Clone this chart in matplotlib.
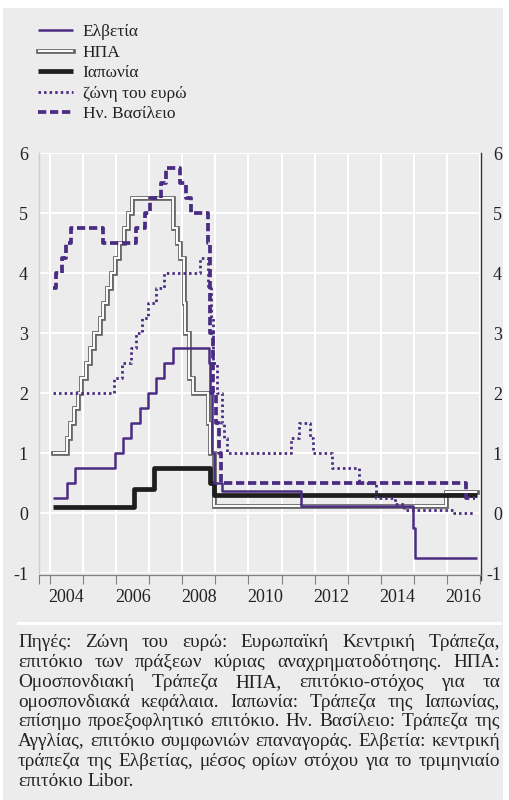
import matplotlib
matplotlib.use('Agg')
import matplotlib.pyplot as plt
import matplotlib.patheffects as pe
from matplotlib.patches import Rectangle
from matplotlib.lines import Line2D
from matplotlib.font_manager import FontProperties

SERIF = ['Liberation Serif', 'DejaVu Serif']
plt.rcParams['font.family'] = SERIF
plt.rcParams['axes.unicode_minus'] = False

# ---------------- data (change dates in decimal years, levels in %) ----------------
ch_dates = [2004.08, 2004.5, 2004.75, 2005.96, 2006.21, 2006.46, 2006.71, 2006.96, 2007.21,
            2007.46, 2007.71, 2008.80, 2008.85, 2008.89, 2008.95, 2009.19, 2011.59, 2014.96,
            2015.04, 2016.9]
ch_vals = [0.25, 0.5, 0.75, 1.0, 1.25, 1.5, 1.75, 2.0, 2.25, 2.5, 2.75, 2.5, 2.0, 1.0, 0.5,
           0.375, 0.125, -0.25, -0.75, -0.75]

us_dates = [2004.08, 2004.5, 2004.61, 2004.72, 2004.86, 2004.95, 2005.09, 2005.22, 2005.34,
            2005.5, 2005.6, 2005.72, 2005.83, 2005.95, 2006.08, 2006.24, 2006.36, 2006.49,
            2007.71, 2007.83, 2007.94, 2008.06, 2008.08, 2008.21, 2008.33, 2008.77, 2008.83,
            2008.96, 2015.96, 2016.9]
us_vals = [1.0, 1.25, 1.5, 1.75, 2.0, 2.25, 2.5, 2.75, 3.0, 3.25, 3.5, 3.75, 4.0, 4.25, 4.5,
           4.75, 5.0, 5.25, 4.75, 4.5, 4.25, 3.5, 3.0, 2.25, 2.0, 1.5, 1.0, 0.125, 0.35, 0.35]

jp_dates = [2004.08, 2006.54, 2007.14, 2008.83, 2008.97, 2016.9]
jp_vals = [0.1, 0.4, 0.75, 0.5, 0.3, 0.3]

ez_dates = [2004.08, 2005.93, 2006.18, 2006.45, 2006.6, 2006.78, 2006.95, 2007.2, 2007.45,
            2008.52, 2008.79, 2008.87, 2008.94, 2009.05, 2009.19, 2009.27, 2009.36, 2011.28,
            2011.53, 2011.86, 2011.95, 2012.53, 2013.35, 2013.87, 2014.44, 2014.69, 2016.2,
            2016.8]
ez_vals = [2.0, 2.25, 2.5, 2.75, 3.0, 3.25, 3.5, 3.75, 4.0, 4.25, 3.75, 3.25, 2.5, 2.0, 1.5,
           1.25, 1.0, 1.25, 1.5, 1.25, 1.0, 0.75, 0.5, 0.25, 0.15, 0.05, 0.0, 0.0]

uk_dates = [2004.08, 2004.17, 2004.37, 2004.47, 2004.64, 2005.59, 2006.59, 2006.86, 2007.03,
            2007.36, 2007.51, 2007.93, 2008.1, 2008.27, 2008.77, 2008.85, 2008.93, 2009.02,
            2009.1, 2009.18, 2016.59, 2016.85]
uk_vals = [3.75, 4.0, 4.25, 4.5, 4.75, 4.5, 4.75, 5.0, 5.25, 5.5, 5.75, 5.5, 5.25, 5.0, 4.5,
           3.0, 2.0, 1.5, 1.0, 0.5, 0.25, 0.25]

labels = ['Ελβετία', 'ΗΠΑ', 'Ιαπωνία', 'ζώνη του ευρώ', 'Ην. Βασίλειο']
y_ticks = [-1, 0, 1, 2, 3, 4, 5, 6]
x_grid_years = list(range(2004, 2018))
x_label_years = [2004, 2006, 2008, 2010, 2012, 2014, 2016]

note_lines = [
    "Πηγές: Ζώνη του ευρώ: Ευρωπαϊκή Κεντρική Τράπεζα,",
    "επιτόκιο των πράξεων κύριας αναχρηματοδότησης. ΗΠΑ:",
    "Ομοσπονδιακή Τράπεζα ΗΠΑ, επιτόκιο-στόχος για τα",
    "ομοσπονδιακά κεφάλαια. Ιαπωνία: Τράπεζα της Ιαπωνίας,",
    "επίσημο προεξοφλητικό επιτόκιο. Ην. Βασίλειο: Τράπεζα της",
    "Αγγλίας, επιτόκιο συμφωνιών επαναγοράς. Ελβετία: κεντρική",
    "τράπεζα της Ελβετίας, μέσος ορίων στόχου για το τριμηνιαίο",
    "επιτόκιο Libor.",
]
top_text = "(ποσοστιαίες μονάδες, μηνιαία στοιχεία)"

# ---------------- styling ----------------
PURPLE = '#4a2c82'
BG = '#ececec'
W, H = 509, 800

fig = plt.figure(figsize=(W / 100, H / 100), dpi=100)
fig.patch.set_facecolor('white')
fig.add_artist(Rectangle((3 / W, 0), 500 / W, 792 / H, transform=fig.transFigure,
                         facecolor=BG, edgecolor='none', zorder=-10))
fig.text(20 / W, 1 + 3.5 / H, top_text, color=PURPLE, fontsize=12, va='baseline', ha='left')

ax = fig.add_axes([39 / W, 1 - 573 / H, (481 - 39) / W, (573 - 153) / H])
ax.set_facecolor(BG)
ax.set_xlim(2003.667, 2017.03)
ax.set_ylim(-1, 6)

# lines
l_us, = ax.plot(us_dates, us_vals, drawstyle='steps-post', color='white', lw=1.4,
                solid_capstyle='butt', solid_joinstyle='miter', zorder=3,
                path_effects=[pe.Stroke(linewidth=3.4, foreground='#666666', capstyle='projecting',
                                        joinstyle='miter'), pe.Normal()])
l_jp, = ax.plot(jp_dates, jp_vals, drawstyle='steps-post', color='#1e1e1e', lw=3.4,
                solid_capstyle='butt', zorder=4)
l_ch, = ax.plot(ch_dates, ch_vals, drawstyle='steps-post', color=PURPLE, lw=1.8,
                solid_capstyle='butt', zorder=5)
l_ez, = ax.plot(ez_dates, ez_vals, drawstyle='steps-post', color=PURPLE, lw=2.0,
                linestyle=(0, (0.9, 1.1)), zorder=6)
l_uk, = ax.plot(uk_dates, uk_vals, drawstyle='steps-post', color=PURPLE, lw=2.7,
                linestyle=(0, (2.2, 1.0)), zorder=7)

# grid & ticks
ax.set_yticks(y_ticks)
ax.set_xticks([ax.get_xlim()[0]] + x_grid_years)
ax.set_xticklabels([])
ax.set_xticks([y + 0.5 for y in x_label_years], minor=True)
ax.set_xticklabels([str(y) for y in x_label_years], minor=True)
ax.grid(True, which='major', color='white', lw=1.5, zorder=0)
ax.set_axisbelow(True)
ax.tick_params(axis='x', which='major', direction='out', length=6.5, width=0.8, color='#808080')
ax.tick_params(axis='x', which='minor', length=0, pad=10, labelsize=13, labelcolor='#222222')
ax.tick_params(axis='y', which='major', length=0, pad=8, labelsize=13, labelcolor='#222222')

ax.spines['top'].set_visible(False)
ax.spines['left'].set_color('#cdcdcd')
ax.spines['left'].set_linewidth(1.0)
ax.spines['bottom'].set_color('#808080')
ax.spines['bottom'].set_linewidth(0.9)
ax.spines['bottom'].set_position(('outward', 1.5))
ax.spines['right'].set_color('#333333')
ax.spines['right'].set_linewidth(1.0)
ax.spines['right'].set_bounds(-1.12, 6)

ax2 = ax.twinx()
ax2.set_ylim(ax.get_ylim())
ax2.set_yticks(y_ticks)
ax2.tick_params(axis='y', length=0, pad=15, labelsize=13, labelcolor='#222222')
for s in ax2.spines.values():
    s.set_visible(False)
for t in ax2.yaxis.get_major_ticks():
    t.label2.set_horizontalalignment('right')

# legend
fig.legend([l_ch, l_us, l_jp, l_ez, l_uk], labels, loc='upper left',
           bbox_to_anchor=(38 / W, 1 - 24 / H), frameon=False, borderpad=0, borderaxespad=0,
           handlelength=2.0, handletextpad=0.58, labelspacing=0.25,
           prop=FontProperties(family=SERIF, size=12.5), labelcolor='#222222')

# separator
fig.add_artist(Line2D([18 / W, 500 / W], [1 - 623 / H] * 2, color='white', lw=2.2,
                      transform=fig.transFigure))

# justified source note
fig.canvas.draw()
r = fig.canvas.get_renderer()

def tw(s, size):
    fp = FontProperties(family=SERIF, size=size)
    return r.get_text_width_height_descent(s, fp, ismath=False)[0]

x0, x1 = 18, 500
s0 = 12.0
nat = []
for ln in note_lines[:-1]:
    nat.append(tw(ln, s0))
size = s0 * 478 / max(nat)
base0, step = 647, 19.86
for i, ln in enumerate(note_lines):
    words = ln.split(' ')
    ws = [tw(w, size) for w in words]
    if i < len(note_lines) - 1 and len(words) > 1:
        gap = (x1 - x0 - sum(ws)) / (len(words) - 1)
    else:
        gap = tw('a b', size) - tw('ab', size)
    x = x0
    yb = base0 + i * step
    for w, wd in zip(words, ws):
        fig.text(x / W, 1 - yb / H, w, fontsize=size, color='#222222', va='baseline', ha='left')
        x += wd + gap

fig.savefig('out.png', dpi=100, facecolor=fig.get_facecolor())
